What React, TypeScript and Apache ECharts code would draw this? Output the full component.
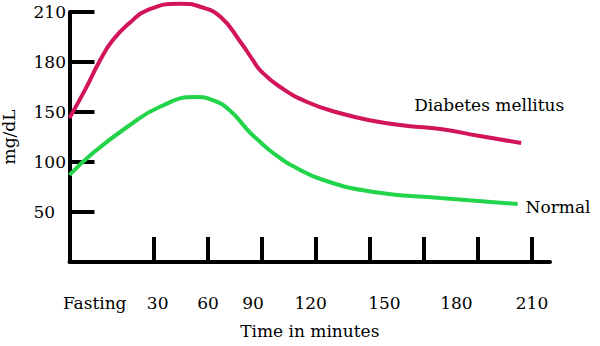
import React, { useEffect, useRef } from "react";
import * as echarts from "echarts";

// x in minutes (axis scale), y in mg/dL
const diabetesT = [-17, -8, 0, 7, 17, 26, 44, 56, 67, 78, 85, 89, 100, 115, 133, 152, 171, 189, 211, 234];
const diabetesMg = [144, 164, 181, 193, 204, 211, 215, 213, 207, 192, 181, 175, 165, 156, 149, 141, 136, 133, 126, 119];
const normalT = [-17, -4, 15, 33, 53, 63, 72, 83, 89, 94, 100, 106, 124, 152, 189, 232];
const normalMg = [87, 109, 135, 153, 159, 157, 151, 130, 120, 112, 104, 97, 82, 70, 64, 58];

const xTickValues = [30, 60, 90, 120, 150, 180, 210, 240];
const xLabelValues = [-3, 32, 60, 85, 117, 158, 198, 240];
const xLabels = ["Fasting", "30", "60", "90", "120", "150", "180", "210"];

const yTickValues = [50, 100, 150, 200, 250];
const yLabels = ["50", "100", "150", "180", "210"];

// the printed y scale is stretched above 150 (30 mg/dL per tick instead of 50)
const toAxis = (mg: number) => (mg <= 150 ? mg : 150 + (mg - 150) / 0.6);

const FONT = "DejaVu Serif";
const FS = 17;

export default function App() {
  const ref = useRef<HTMLDivElement>(null);
  useEffect(() => {
    if (!ref.current) return;
    const chart = echarts.init(ref.current, null, { renderer: "svg" });
    const dia = diabetesT.map((t, i) => [t, toAxis(diabetesMg[i])]);
    const nor = normalT.map((t, i) => [t, toAxis(normalMg[i])]);
    chart.setOption({
      animation: false,
      backgroundColor: "#ffffff",
      grid: { left: 69.5, right: 50, top: 12, bottom: 84, containLabel: false, outerBoundsMode: "none" },
      xAxis: {
        type: "value",
        min: -17,
        max: 250,
        name: "Time in minutes",
        nameLocation: "middle",
        nameGap: 60,
        nameTextStyle: { fontFamily: FONT, fontSize: FS, color: "#000" },
        axisLine: { onZero: false, lineStyle: { color: "#000", width: 4 } },
        axisTick: {
          inside: true,
          length: 25,
          customValues: xTickValues,
          lineStyle: { color: "#000", width: 4 },
        },
        axisLabel: {
          customValues: xLabelValues,
          margin: 32,
          fontFamily: FONT,
          fontSize: FS,
          color: "#000",
          formatter: (v: number) => {
            const i = xLabelValues.indexOf(v);
            return i >= 0 ? xLabels[i] : "";
          },
        },
        splitLine: { show: false },
      },
      yAxis: {
        type: "value",
        min: 0,
        max: 250,
        name: "mg/dL",
        nameLocation: "middle",
        nameRotate: 90,
        nameGap: 52,
        nameTextStyle: { fontFamily: FONT, fontSize: FS, color: "#000" },
        axisLine: { onZero: false, lineStyle: { color: "#000", width: 4 } },
        axisTick: {
          inside: true,
          length: 25,
          customValues: yTickValues,
          lineStyle: { color: "#000", width: 4 },
        },
        axisLabel: {
          customValues: yTickValues,
          margin: 36,
          align: "left",
          fontFamily: FONT,
          fontSize: FS,
          color: "#000",
          formatter: (v: number) => {
            const i = yTickValues.indexOf(v);
            return i >= 0 ? yLabels[i] : "";
          },
        },
        splitLine: { show: false },
      },
      series: [
        {
          type: "line",
          name: "Diabetes mellitus",
          data: dia,
          smooth: 0.5,
          clip: false,
          showSymbol: false,
          lineStyle: { color: "#d2145a", width: 4 },
          itemStyle: { color: "#d2145a" },
          endLabel: {
            show: true,
            formatter: "Diabetes mellitus",
            fontFamily: FONT,
            fontSize: FS,
            color: "#000",
            align: "center",
            offset: [-40, -38],
          },
        },
        {
          type: "line",
          name: "Normal",
          data: nor,
          smooth: 0.5,
          clip: false,
          showSymbol: false,
          lineStyle: { color: "#22d44a", width: 4 },
          itemStyle: { color: "#22d44a" },
          endLabel: {
            show: true,
            formatter: "Normal",
            fontFamily: FONT,
            fontSize: FS,
            color: "#000",
            distance: 8,
            offset: [0, 3],
          },
        },
      ],
    });
    return () => chart.dispose();
  }, []);
  return <div ref={ref} style={{ width: 600, height: 346, position: "absolute", left: 0, top: 0 }} />;
}
